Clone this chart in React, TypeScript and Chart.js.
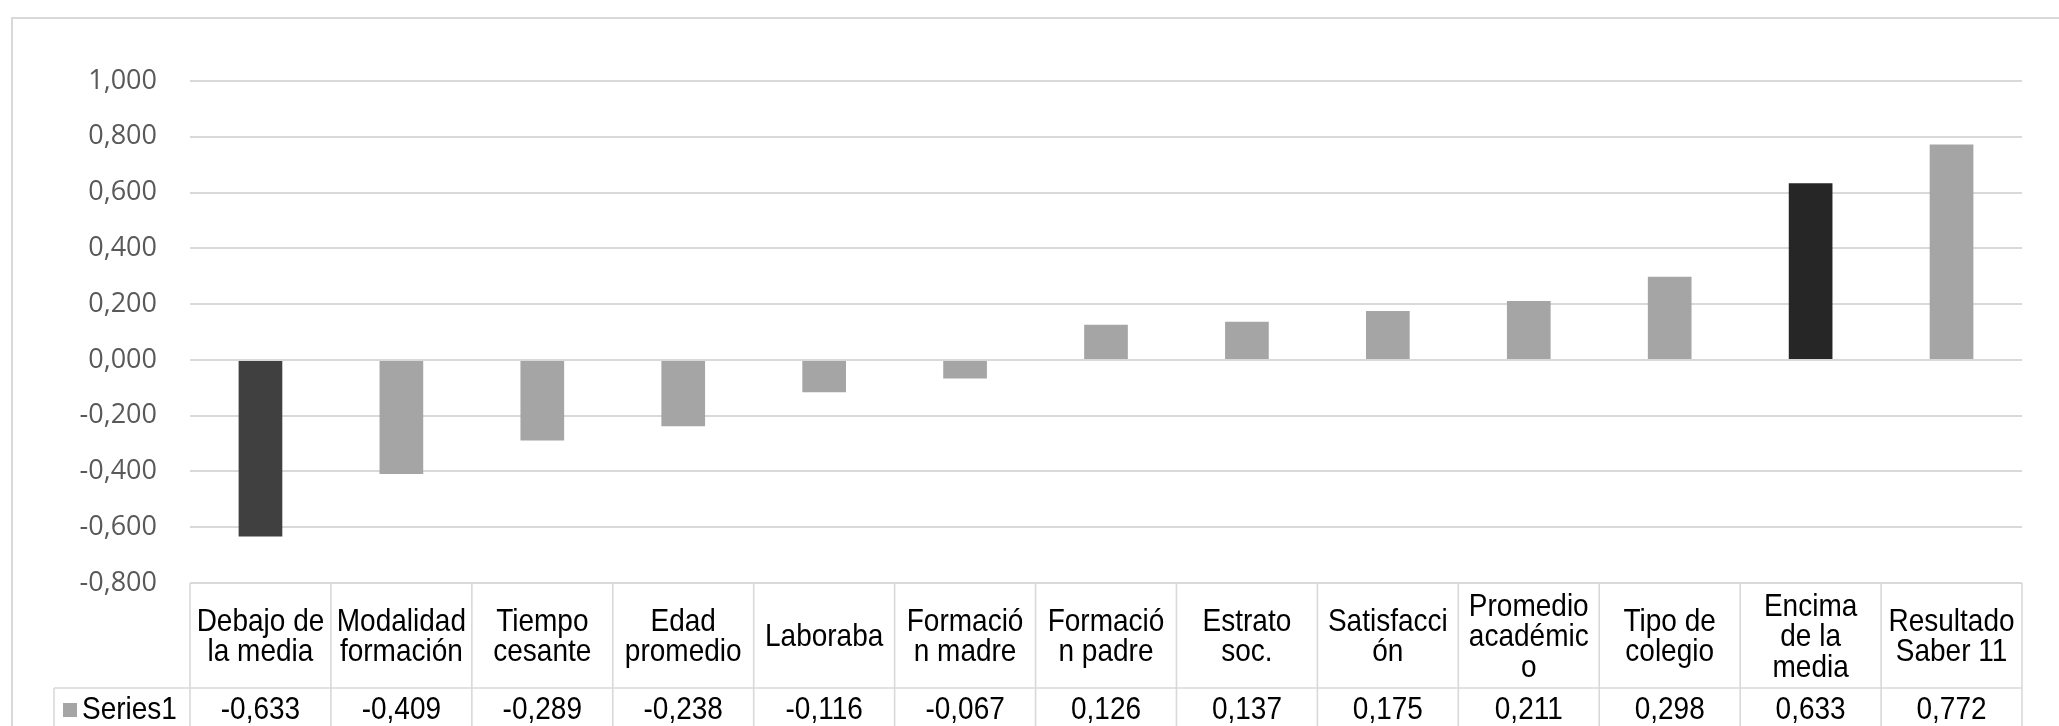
import React, { useEffect, useRef } from "react";
import { Chart, registerables } from "chart.js";

Chart.register(...registerables);

// ---- data ----
const categories: string[][] = [
  ["Debajo de", "la media"],
  ["Modalidad", "formación"],
  ["Tiempo", "cesante"],
  ["Edad", "promedio"],
  ["Laboraba"],
  ["Formació", "n madre"],
  ["Formació", "n padre"],
  ["Estrato", "soc."],
  ["Satisfacci", "ón"],
  ["Promedio", "académic", "o"],
  ["Tipo de", "colegio"],
  ["Encima", "de la", "media"],
  ["Resultado", "Saber 11"],
];
const values: number[] = [
  -0.633, -0.409, -0.289, -0.238, -0.116, -0.067, 0.126, 0.137, 0.175, 0.211, 0.298, 0.633, 0.772,
];
const seriesName = "Series1";
const yMin = -0.8;
const yMax = 1.0;
const yStep = 0.2;

// ---- styles ----
const BASE_COLOR = "#A5A5A5";
const HIGHLIGHT: Record<number, string> = { 0: "#404040", 11: "#262626" };
const GRID = "#D9D9D9";
const TABLE_FONT = '28px "Liberation Sans", Arial, sans-serif';
const STRETCH = 1.12;

const fmt = (v: number) => {
  const n = Math.abs(v) < 1e-9 ? 0 : v;
  return n.toFixed(3).replace(".", ",");
};

const drawText = (ctx: CanvasRenderingContext2D, t: string, x: number, y: number) => {
  ctx.save();
  ctx.translate(x, y);
  ctx.scale(1, STRETCH);
  ctx.fillText(t, 0, 0);
  ctx.restore();
};

const tablePlugin = {
  id: "dataTable",
  afterDraw(chart: any) {
    const ctx = chart.ctx as CanvasRenderingContext2D;
    const x = chart.scales.x;
    const area = chart.chartArea;
    const n = categories.length;
    const half = (x.getPixelForValue(1) - x.getPixelForValue(0)) / 2;
    const left = x.getPixelForValue(0) - half;
    const right = x.getPixelForValue(n - 1) + half;
    const top = area.bottom;
    const mid = top + 105;
    const bottom = mid + 44;
    const labelLeft = 54;

    ctx.save();
    // outer chart border
    ctx.strokeStyle = GRID;
    ctx.lineWidth = 2;
    ctx.strokeRect(12, 18, chart.width + 20, chart.height + 20);

    // table lines
    ctx.lineWidth = 1.6;
    ctx.strokeStyle = GRID;
    ctx.beginPath();
    ctx.moveTo(left, top);
    ctx.lineTo(right, top);
    ctx.moveTo(labelLeft, mid);
    ctx.lineTo(right, mid);
    ctx.moveTo(labelLeft, bottom);
    ctx.lineTo(right, bottom);
    ctx.moveTo(labelLeft, mid);
    ctx.lineTo(labelLeft, bottom);
    for (let i = 0; i <= n; i++) {
      const bx = left + i * half * 2;
      ctx.moveTo(bx, top);
      ctx.lineTo(bx, bottom);
    }
    ctx.stroke();

    // header text
    ctx.fillStyle = "#000000";
    ctx.font = TABLE_FONT;
    ctx.textAlign = "center";
    ctx.textBaseline = "middle";
    const lh = 30.5;
    const hc = (top + mid) / 2 + 2;
    categories.forEach((lines, i) => {
      const cx = x.getPixelForValue(i);
      const start = hc - ((lines.length - 1) * lh) / 2;
      lines.forEach((t, j) => drawText(ctx, t, cx, start + j * lh));
    });

    // values row
    const vc = mid + 22;
    values.forEach((v, i) => {
      drawText(ctx, fmt(v), x.getPixelForValue(i), vc);
    });

    // series label with legend key
    ctx.fillStyle = BASE_COLOR;
    ctx.fillRect(63, vc - 7, 14, 14);
    ctx.fillStyle = "#000000";
    ctx.textAlign = "left";
    drawText(ctx, seriesName, 82, vc);
    ctx.restore();
  },
};

export default function App() {
  const ref = useRef<HTMLCanvasElement | null>(null);

  useEffect(() => {
    if (!ref.current) return;
    const chart = new Chart(ref.current, {
      type: "bar",
      data: {
        labels: categories.map((c) => c.join(" ")),
        datasets: [
          {
            label: seriesName,
            data: values,
            backgroundColor: values.map((_, i) => HIGHLIGHT[i] ?? BASE_COLOR),
            borderWidth: 0,
            categoryPercentage: 0.31,
            barPercentage: 1,
          },
        ],
      },
      options: {
        responsive: false,
        animation: false,
        devicePixelRatio: 1,
        layout: { padding: { left: 0, right: 37, top: 81, bottom: 143 } },
        plugins: {
          legend: { display: false },
          tooltip: { enabled: false },
        },
        scales: {
          x: {
            display: false,
            offset: true,
            grid: { display: false },
          },
          y: {
            min: yMin,
            max: yMax,
            ticks: {
              stepSize: yStep,
              callback: (v: any) => fmt(Number(v)),
              color: "#595959",
              font: { family: '"Open Sans", sans-serif', size: 27 },
              padding: 33,
            },
            grid: { color: GRID, lineWidth: 2, drawTicks: false },
            border: { display: false },
            afterFit: (s: any) => {
              s.width = 190;
            },
          },
        },
      },
      plugins: [tablePlugin],
    });
    return () => chart.destroy();
  }, []);

  return (
    <div
      style={{
        position: "fixed",
        left: 0,
        top: 0,
        width: 2059,
        height: 726,
        background: "#ffffff",
        overflow: "hidden",
      }}
    >
      <canvas ref={ref} width={2059} height={726} style={{ display: "block" }} />
    </div>
  );
}
